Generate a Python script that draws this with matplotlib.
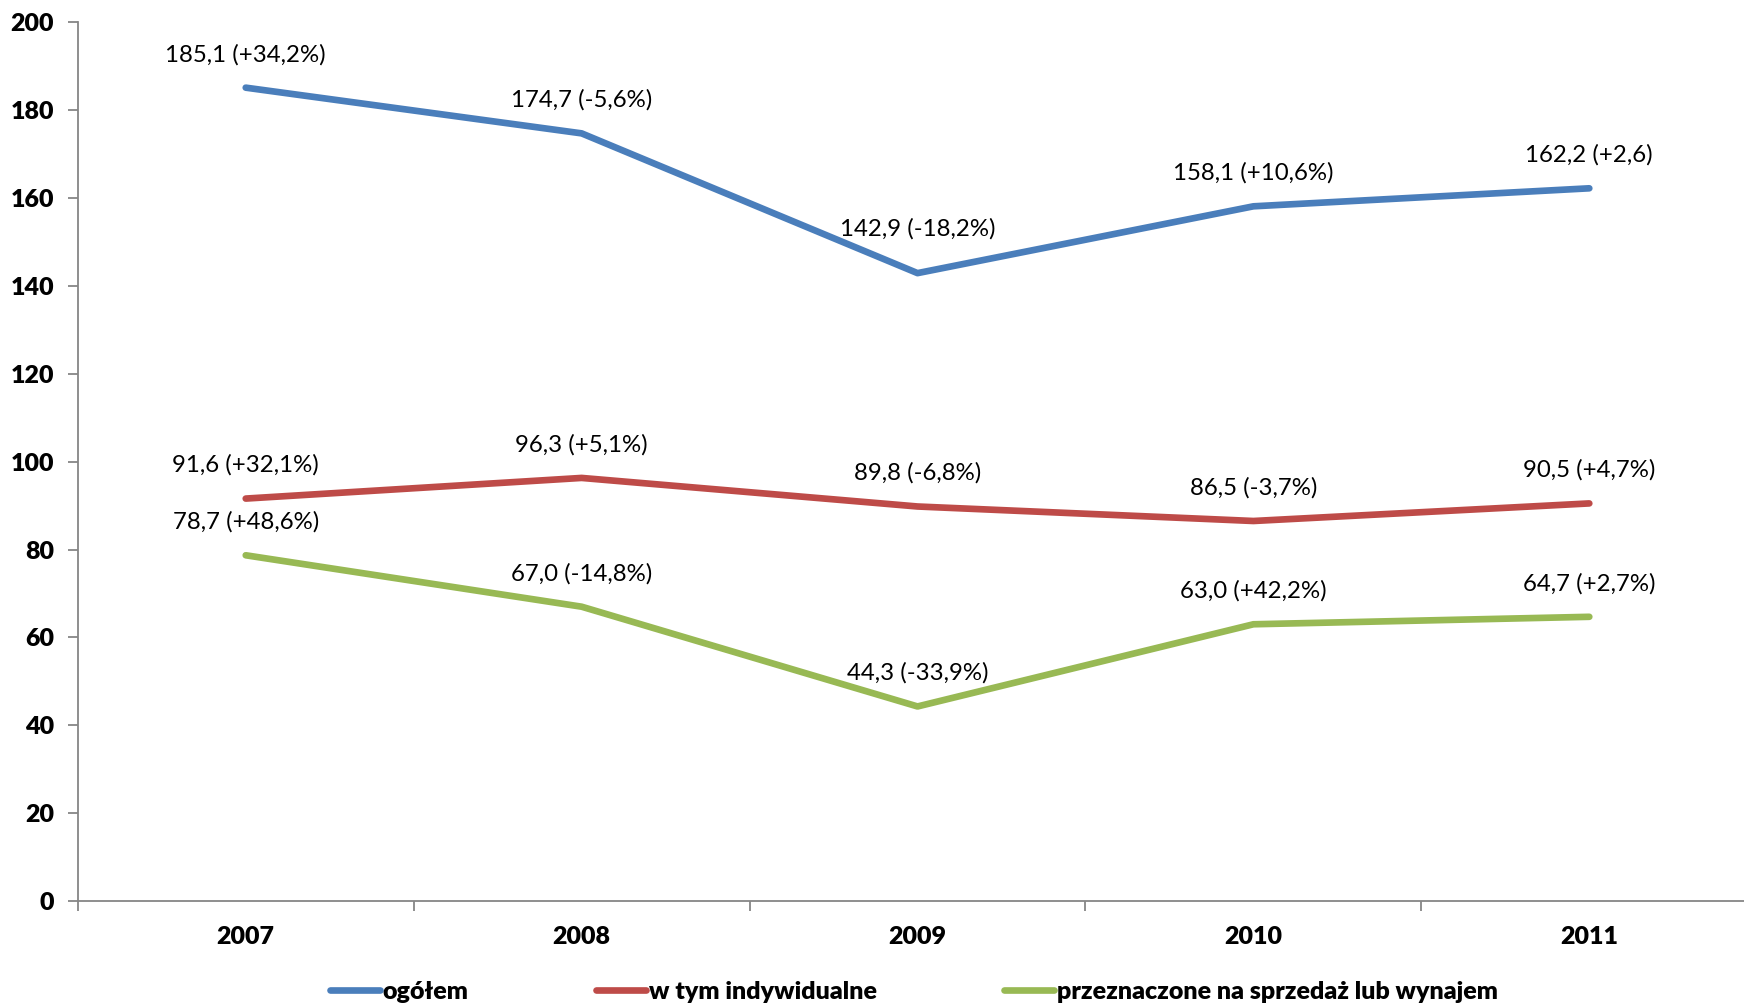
import matplotlib
matplotlib.use('Agg')
import matplotlib.pyplot as plt

# data
years = ['2007', '2008', '2009', '2010', '2011']
ogolem = [185.1, 174.7, 142.9, 158.1, 162.2]
indywidualne = [91.6, 96.3, 89.8, 86.5, 90.5]
sprzedaz = [78.7, 67.0, 44.3, 63.0, 64.7]
ogolem_lbl = ['185,1 (+34,2%)', '174,7 (-5,6%)', '142,9 (-18,2%)', '158,1 (+10,6%)', '162,2 (+2,6)']
indyw_lbl = ['91,6 (+32,1%)', '96,3 (+5,1%)', '89,8 (-6,8%)', '86,5 (-3,7%)', '90,5 (+4,7%)']
sprzed_lbl = ['78,7 (+48,6%)', '67,0 (-14,8%)', '44,3 (-33,9%)', '63,0 (+42,2%)', '64,7 (+2,7%)']
names = ['ogółem', 'w tym indywidualne', 'przeznaczone na sprzedaż lub wynajem']
colors = ['#4A7EBB', '#BE4B48', '#98B954']

# label offsets above points (points), the 2009 total label sits higher
offs = [[24, 24, 32, 24, 24], [24, 24, 24, 24, 24], [24, 24, 24, 24, 24]]

plt.rcParams['font.family'] = ['Lato', 'DejaVu Sans']

fig = plt.figure(figsize=(17.44, 10.08), dpi=100)
ax = fig.add_axes([0.0446, 0.106, 0.963, 0.872])

x = list(range(len(years)))
series = [ogolem, indywidualne, sprzedaz]
labels = [ogolem_lbl, indyw_lbl, sprzed_lbl]
for vals, lbls, name, c, off in zip(series, labels, names, colors, offs):
    ax.plot(x, vals, color=c, lw=4.8, solid_capstyle='round', solid_joinstyle='round', label=name)
    for xi, v, t, o in zip(x, vals, lbls, off):
        ax.annotate(t, (xi, v), xytext=(0, o), textcoords='offset points',
                    ha='center', va='center', fontsize=17.3, color='black')

ax.set_xlim(-0.5, 4.5)
ax.set_ylim(0, 200)
ax.set_yticks(range(0, 201, 20))
ax.set_xticks(x)
ax.set_xticklabels(years)
ax.set_xticks([i - 0.5 for i in range(6)], minor=True)
ax.tick_params(axis='x', which='major', length=0, pad=18, labelsize=18)
ax.tick_params(axis='x', which='minor', length=7, color='#868686', width=1.3, direction='out')
ax.tick_params(axis='y', length=7, color='#868686', width=1.3, pad=10, labelsize=18)
for lab in ax.get_xticklabels() + ax.get_yticklabels():
    lab.set_fontweight('heavy')

for s in ['top', 'right']:
    ax.spines[s].set_visible(False)
for s in ['left', 'bottom']:
    ax.spines[s].set_color('#868686')
    ax.spines[s].set_linewidth(1.3)

leg = fig.legend(loc='center', bbox_to_anchor=(0.524, 0.016), ncol=3, frameon=False,
                 handlelength=2.0, handletextpad=0.1, columnspacing=5.1,
                 prop={'weight': 'heavy', 'size': 18})

fig.savefig('out.png', dpi=100)
